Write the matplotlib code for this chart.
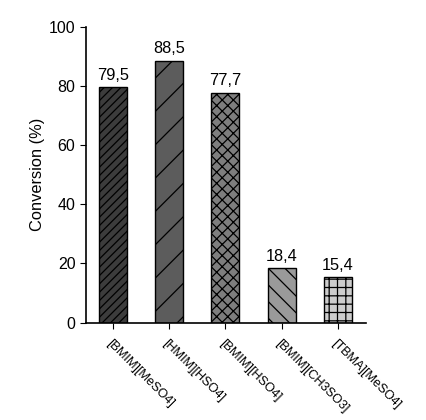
import matplotlib
matplotlib.use("Agg")
import matplotlib.pyplot as plt

categories = ["[BMIM][MeSO4]", "[HMIM][HSO4]", "[BMIM][HSO4]", "[BMIM][CH3SO3]", "[TBMA][MeSO4]"]
values = [79.5, 88.5, 77.7, 18.4, 15.4]
labels = ["79,5", "88,5", "77,7", "18,4", "15,4"]
colors = ["#3c3c3c", "#5c5c5c", "#7e7e7e", "#9a9a9a", "#cdcdcd"]
hatches = ["////", "/", "xxx", "\\\\", "++"]

plt.rcParams['font.family'] = ['Liberation Sans', 'DejaVu Sans']
plt.rcParams['hatch.linewidth'] = 0.9
plt.rcParams['hatch.color'] = 'black'

fig = plt.figure(figsize=(4.27, 4.2), dpi=100)
ax = fig.add_axes([0.201, 0.232, 0.656, 0.704])
x = list(range(len(categories)))
bars = ax.bar(x, values, width=0.5, color=colors, edgecolor='black', linewidth=1.0)
for b, h in zip(bars, hatches):
    b.set_hatch(h)
for xi, v, l in zip(x, values, labels):
    ax.text(xi, v + 1.5, l, ha='center', va='bottom', fontsize=11.8)

ax.set_xlim(-0.48, 4.5)
ax.set_ylim(0, 100)
ax.set_yticks([0, 20, 40, 60, 80, 100])
ax.set_xticks(x)
ax.set_xticklabels(categories, rotation=-45, ha='left', va='top', rotation_mode='anchor', fontsize=9.2)
ax.tick_params(axis='x', direction='out', length=4, pad=7)
ax.tick_params(axis='y', direction='out', length=4, labelsize=11.5)
ax.spines['top'].set_visible(False)
ax.spines['right'].set_visible(False)
ax.spines['left'].set_linewidth(1.2)
ax.spines['bottom'].set_linewidth(1.2)
ax.set_ylabel("Conversion (%)", fontsize=11.8, labelpad=3)

fig.savefig("out.png", dpi=100)
